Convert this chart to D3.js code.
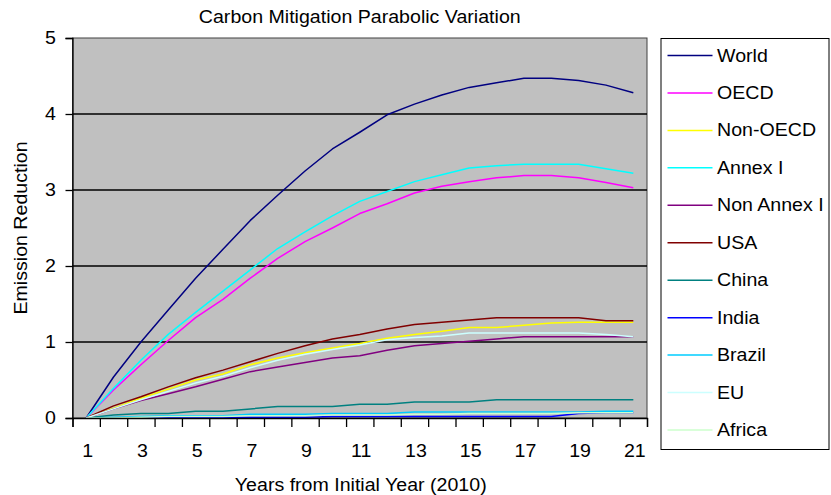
<!DOCTYPE html>
<html lang="en">
<head>
<meta charset="utf-8">
<script src="https://cdn.jsdelivr.net/npm/d3@7"></script>
<style>
  body { margin: 0; background: #fff; }
  text { font-family: "Liberation Sans", Arial, sans-serif; fill: #000; }
</style>
</head>
<body>
<script>
  // years since 2010
  var years = d3.range(1, 22);
  var yTicks = [0, 1, 2, 3, 4, 5];
  var xLabels = [1, 3, 5, 7, 9, 11, 13, 15, 17, 19, 21];

  var seriesNames = ["World", "OECD", "Non-OECD", "Annex I", "Non Annex I", "USA", "China", "India", "Brazil", "EU", "Africa"];
  var seriesColors = ["#000080", "#FF00FF", "#FFFF00", "#00FFFF", "#800080", "#800000", "#008080", "#0000FF", "#00CCFF", "#CCFFFF", "#CCFFCC"];

  var world     = [0, 0.54, 1.0, 1.42, 1.84, 2.22, 2.6, 2.93, 3.25, 3.54, 3.76, 3.99, 4.13, 4.25, 4.35, 4.41, 4.47, 4.47, 4.44, 4.38, 4.28];
  var oecd      = [0, 0.37, 0.70, 1.02, 1.32, 1.56, 1.84, 2.1, 2.32, 2.5, 2.69, 2.82, 2.96, 3.05, 3.11, 3.16, 3.19, 3.19, 3.16, 3.1, 3.03];
  var nonOecd   = [0, 0.13, 0.26, 0.38, 0.5, 0.58, 0.7, 0.79, 0.86, 0.92, 0.98, 1.05, 1.1, 1.14, 1.19, 1.19, 1.22, 1.25, 1.26, 1.26, 1.26];
  var annex1    = [0, 0.39, 0.76, 1.1, 1.39, 1.67, 1.95, 2.23, 2.45, 2.66, 2.85, 2.98, 3.11, 3.2, 3.29, 3.32, 3.34, 3.34, 3.34, 3.28, 3.22];
  var nonAnnex1 = [0, 0.12, 0.23, 0.32, 0.41, 0.51, 0.61, 0.67, 0.73, 0.79, 0.82, 0.89, 0.95, 0.98, 1.01, 1.04, 1.07, 1.07, 1.07, 1.07, 1.07];
  var usa       = [0, 0.16, 0.28, 0.41, 0.53, 0.63, 0.74, 0.85, 0.95, 1.04, 1.1, 1.17, 1.23, 1.26, 1.29, 1.32, 1.32, 1.32, 1.32, 1.28, 1.28];
  var china     = [0, 0.04, 0.06, 0.06, 0.09, 0.09, 0.12, 0.15, 0.15, 0.15, 0.18, 0.18, 0.21, 0.21, 0.21, 0.24, 0.24, 0.24, 0.24, 0.24, 0.24];
  var india     = [0, 0, 0, 0.01, 0.01, 0.01, 0.01, 0.01, 0.01, 0.02, 0.02, 0.02, 0.02, 0.02, 0.02, 0.02, 0.02, 0.02, 0.06, 0.07, 0.07];
  var brazil    = [0, 0.01, 0.02, 0.03, 0.03, 0.03, 0.05, 0.05, 0.05, 0.06, 0.06, 0.06, 0.08, 0.08, 0.08, 0.08, 0.08, 0.08, 0.08, 0.09, 0.09];
  var eu        = [0, 0.12, 0.24, 0.35, 0.46, 0.55, 0.66, 0.76, 0.84, 0.9, 0.96, 1.03, 1.06, 1.08, 1.12, 1.12, 1.12, 1.12, 1.12, 1.1, 1.07];
  var africa    = [0, 0, 0.01, 0.02, 0.02, 0.02, 0.03, 0.03, 0.03, 0.04, 0.04, 0.04, 0.05, 0.05, 0.06, 0.06, 0.06, 0.06, 0.07, 0.07, 0.07];

  var seriesValues = [world, oecd, nonOecd, annex1, nonAnnex1, usa, china, india, brazil, eu, africa];

  var w = 831, h = 495;
  var plot = { left: 72.5, right: 647, top: 38, bottom: 418 };
  var fontSize = 17.5;
  var stretch = 1.12; // text in the picture is a bit wider than Arial

  var svg = d3.select("body").append("svg")
    .attr("width", w)
    .attr("height", h);

  // text helper: positioned group, slightly widened glyphs
  function label(parent, x, y, str, anchor, rotate) {
    var g = parent.append("g")
      .attr("transform", "translate(" + x + "," + y + ")" + (rotate ? " rotate(" + rotate + ")" : "") + " scale(" + stretch + ",1)");
    g.append("text")
      .attr("text-anchor", anchor || "start")
      .style("font-size", fontSize + "px")
      .text(str);
    return g;
  }

  // categories sit in the middle of each slot, ticks on the slot edges
  var xScale = d3.scaleLinear()
    .domain([0.5, 21.5])
    .range([plot.left, plot.right]);

  var yScale = d3.scaleLinear()
    .domain([0, 5])
    .range([plot.bottom, plot.top]);

  svg.append("rect")
    .attr("x", plot.left)
    .attr("y", plot.top)
    .attr("width", plot.right - plot.left)
    .attr("height", plot.bottom - plot.top)
    .style("fill", "#C0C0C0")
    .style("stroke", "#404040")
    .style("stroke-width", 1);

  // gridlines
  svg.append("g").selectAll("line")
    .data(yTicks.filter(function(d) { return d > 0 && d < 5; }))
    .enter()
    .append("line")
    .attr("x1", plot.left)
    .attr("x2", plot.right)
    .attr("y1", function(d) { return yScale(d); })
    .attr("y2", function(d) { return yScale(d); })
    .style("stroke", "#000")
    .style("stroke-width", 1.3);

  var line = d3.line()
    .x(function(d, i) { return xScale(years[i]); })
    .y(function(d) { return yScale(d); });

  svg.append("g").selectAll("path")
    .data(seriesValues)
    .enter()
    .append("path")
    .attr("d", line)
    .style("fill", "none")
    .style("stroke", function(d, i) { return seriesColors[i]; })
    .style("stroke-width", 1.5)
    .style("stroke-linejoin", "round");

  // axes
  var yAxis = d3.axisLeft(yScale).tickValues(yTicks).tickSize(7).tickFormat("");
  svg.append("g")
    .attr("transform", "translate(" + plot.left + ",0)")
    .call(yAxis);

  var yLabels = svg.append("g");
  yTicks.forEach(function(d) {
    label(yLabels, 56, yScale(d) + 6, d, "end");
  });

  var xAxis = d3.axisBottom(xScale)
    .tickValues(d3.range(0.5, 22, 1))
    .tickSize(9)
    .tickFormat("");
  svg.append("g")
    .attr("transform", "translate(0," + plot.bottom + ")")
    .call(xAxis);

  var xLabelGroup = svg.append("g");
  xLabels.forEach(function(d) {
    label(xLabelGroup, xScale(d) + 1.5, 457, d, "middle");
  });

  svg.selectAll(".domain").style("stroke", "#000").style("stroke-width", 1.3);
  svg.selectAll(".tick line").style("stroke", "#000").style("stroke-width", 1.3);

  label(svg, (plot.left + plot.right) / 2, 23, "Carbon Mitigation Parabolic Variation", "middle");
  label(svg, (plot.left + plot.right) / 2 + 1, 491, "Years from Initial Year (2010)", "middle");
  label(svg, 27, (plot.top + plot.bottom) / 2, "Emission Reduction", "middle", -90);

  // legend
  var legend = svg.append("g").attr("id", "legend");
  legend.append("rect")
    .attr("x", 661)
    .attr("y", 38.5)
    .attr("width", 168)
    .attr("height", 411)
    .style("fill", "#fff")
    .style("stroke", "#000")
    .style("stroke-width", 1);

  seriesNames.forEach(function(name, i) {
    var ly = 55.5 + i * 37.45;
    legend.append("line")
      .attr("x1", 667.5)
      .attr("x2", 712.5)
      .attr("y1", ly)
      .attr("y2", ly)
      .style("stroke", seriesColors[i])
      .style("stroke-width", 1.5);
    label(legend, 717, ly + 6, name, "start");
  });
</script>
</body>
</html>
